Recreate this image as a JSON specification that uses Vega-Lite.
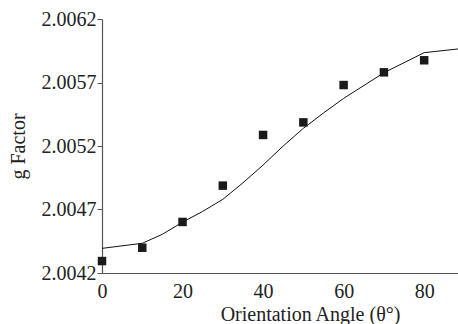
{
  "$schema": "https://vega.github.io/schema/vega-lite/v6.json",
  "width": 356,
  "height": 254,
  "autosize": {"type": "none"},
  "padding": {"left": 102, "top": 19, "right": 0, "bottom": 51},
  "background": "white",
  "config": {
    "view": {"stroke": null},
    "font": "Liberation Serif",
    "axis": {
      "grid": false,
      "labelFont": "Liberation Serif",
      "titleFont": "Liberation Serif",
      "labelFontSize": 20,
      "titleFontSize": 20,
      "labelColor": "#222",
      "titleColor": "#222",
      "titleFontWeight": "normal",
      "domainColor": "#555",
      "tickColor": "#555",
      "domainWidth": 1.2
    }
  },
  "datasets": {
    "points": [
      {"angle": 0, "g": 2.004294},
      {"angle": 10, "g": 2.004399},
      {"angle": 20, "g": 2.004602},
      {"angle": 30, "g": 2.004888},
      {"angle": 40, "g": 2.005287},
      {"angle": 50, "g": 2.005386},
      {"angle": 60, "g": 2.00568},
      {"angle": 70, "g": 2.00578},
      {"angle": 80, "g": 2.005875}
    ],
    "fit": [
      {"angle": 0, "g": 2.004394},
      {"angle": 10, "g": 2.004434},
      {"angle": 15, "g": 2.004505},
      {"angle": 20, "g": 2.0046},
      {"angle": 25, "g": 2.004685},
      {"angle": 30, "g": 2.00478},
      {"angle": 35, "g": 2.00491},
      {"angle": 40, "g": 2.00505},
      {"angle": 45, "g": 2.0052},
      {"angle": 50, "g": 2.005339},
      {"angle": 55, "g": 2.00546},
      {"angle": 60, "g": 2.005575},
      {"angle": 70, "g": 2.005777},
      {"angle": 80, "g": 2.005935},
      {"angle": 88.4, "g": 2.005964}
    ]
  },
  "layer": [
    {
      "data": {"name": "fit"},
      "mark": {"type": "line", "color": "#111", "strokeWidth": 1, "clip": true},
      "encoding": {
        "x": {
          "field": "angle", "type": "quantitative",
          "scale": {"domain": [0, 88.4], "nice": false, "zero": false},
          "axis": {
            "values": [0, 20, 40, 60, 80],
            "ticks": false,
            "labelPadding": 8,
            "title": "Orientation Angle (θ°)",
            "titleX": 208,
            "titleY": 47,
            "titleAlign": "center",
            "titleBaseline": "alphabetic",
            "labelFlush": false
          }
        },
        "y": {
          "field": "g", "type": "quantitative",
          "scale": {"domain": [2.0042, 2.0062], "nice": false, "zero": false},
          "axis": {
            "values": [2.0042, 2.0047, 2.0052, 2.0057, 2.0062],
            "format": ".4f",
            "tickSize": 5,
            "labelPadding": 1,
            "labelFlush": false,
            "title": "g Factor",
            "titleAngle": -90,
            "titleX": -84,
            "titleY": 127,
            "titleAlign": "center",
            "titleBaseline": "middle"
          }
        }
      }
    },
    {
      "data": {"name": "points"},
      "mark": {"type": "square", "color": "#1a1a1a", "opacity": 1, "size": 72},
      "encoding": {
        "x": {"field": "angle", "type": "quantitative"},
        "y": {"field": "g", "type": "quantitative"}
      }
    }
  ]
}
